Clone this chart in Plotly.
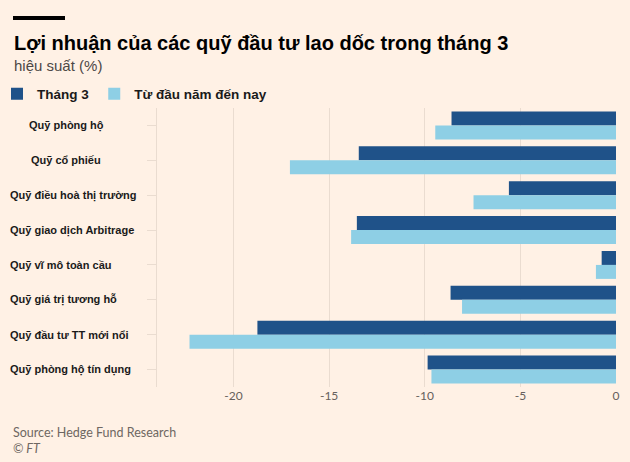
import plotly.graph_objects as go

categories = [
    "Quỹ phòng hộ",
    "Quỹ cổ phiếu",
    "Quỹ điều hoà thị trường",
    "Quỹ giao dịch Arbitrage",
    "Quỹ vĩ mô toàn cầu",
    "Quỹ giá trị tương hỗ",
    "Quỹ đầu tư TT mới nổi",
    "Quỹ phòng hộ tín dụng",
]
thang3 = [-8.6, -13.45, -5.6, -13.55, -0.75, -8.65, -18.75, -9.85]
tu_dau_nam = [-9.45, -17.05, -7.45, -13.85, -1.05, -8.05, -22.3, -9.65]
x_ticks = [-20, -15, -10, -5, 0]
x_tick_labels = ["-20", "-15", "-10", "-5", "0"]

title = "Lợi nhuận của các quỹ đầu tư lao dốc trong tháng 3"
subtitle = "hiệu suất (%)"
source = "Source: Hedge Fund Research"
credit = "© FT"

W, H = 630, 462
ML, MR, MT, MB = 157, 14, 108, 75
PW, PH = W - ML - MR, H - MT - MB

def px(x):
    return (x - ML) / PW

def py(y):
    return (H - MB - y) / PH

BG = "#FFF1E5"
DARK = "#1F5289"
LIGHT = "#8ECFE5"
GRID = "#EADCD0"
label_indent = [19, 21, 0, 0, 0, 0, 0, 0]

fig = go.Figure()
fig.add_trace(go.Bar(y=categories, x=thang3, orientation="h", name="Tháng 3",
                     marker=dict(color=DARK, line=dict(width=0))))
fig.add_trace(go.Bar(y=categories, x=tu_dau_nam, orientation="h", name="Từ đầu năm đến nay",
                     marker=dict(color=LIGHT, line=dict(width=0))))

fig.update_layout(
    width=W, height=H,
    margin=dict(l=ML, r=MR, t=MT, b=MB, autoexpand=False),
    paper_bgcolor=BG, plot_bgcolor=BG,
    barmode="group", bargap=0.2, bargroupgap=0,
    showlegend=True,
    legend=dict(orientation="h", x=px(-3), y=py(94), xanchor="left", yanchor="middle",
                font=dict(family="Liberation Sans", size=13.5, color="#1a1a1a", weight="bold"),
                bgcolor="rgba(0,0,0,0)", itemsizing="constant", traceorder="normal",
                itemwidth=30),
    xaxis=dict(range=[-24, 0], tickvals=x_ticks, ticktext=x_tick_labels,
               showgrid=True, gridcolor=GRID, gridwidth=1, zeroline=False,
               showline=False, ticks="",
               tickfont=dict(family="Lato", size=12, color="#66605C")),
    yaxis=dict(autorange="reversed", showticklabels=False, showgrid=False,
               showline=True, linecolor=GRID, linewidth=1,
               ticks="outside", ticklen=9, tickcolor=GRID, zeroline=False),
    font=dict(family="Liberation Sans"),
)

for cat, ind in zip(categories, label_indent):
    fig.add_annotation(x=0, xref="paper", y=cat, yref="y", xanchor="left",
                       xshift=8 - ML + ind, text=cat, showarrow=False,
                       font=dict(family="Liberation Sans", size=11, color="#1a1a1a", weight="bold"))

fig.add_annotation(x=px(12), y=py(43), xref="paper", yref="paper", xanchor="left", yanchor="middle",
                   text=title, showarrow=False,
                   font=dict(family="Liberation Sans", size=20, color="#000000", weight="bold"))
fig.add_annotation(x=px(12), y=py(65), xref="paper", yref="paper", xanchor="left", yanchor="middle",
                   text=subtitle, showarrow=False,
                   font=dict(family="Liberation Sans", size=15, color="#4D4845"))
fig.add_annotation(x=px(11), y=py(432), xref="paper", yref="paper", xanchor="left", yanchor="middle",
                   text=source, showarrow=False,
                   font=dict(family="Lato", size=12.5, color="#6E6762"))
fig.add_annotation(x=px(11), y=py(448), xref="paper", yref="paper", xanchor="left", yanchor="middle",
                   text="<i>" + credit + "</i>", showarrow=False,
                   font=dict(family="Lato", size=12.5, color="#6E6762"))

fig.add_shape(type="rect", xref="paper", yref="paper", x0=px(13), x1=px(65), y0=py(16), y1=py(20),
              fillcolor="#000000", line=dict(width=0))

fig.write_html("out.html", config={"displayModeBar": False},
               post_script="document.body.style.margin='0';document.body.style.background='#FFF1E5';")
